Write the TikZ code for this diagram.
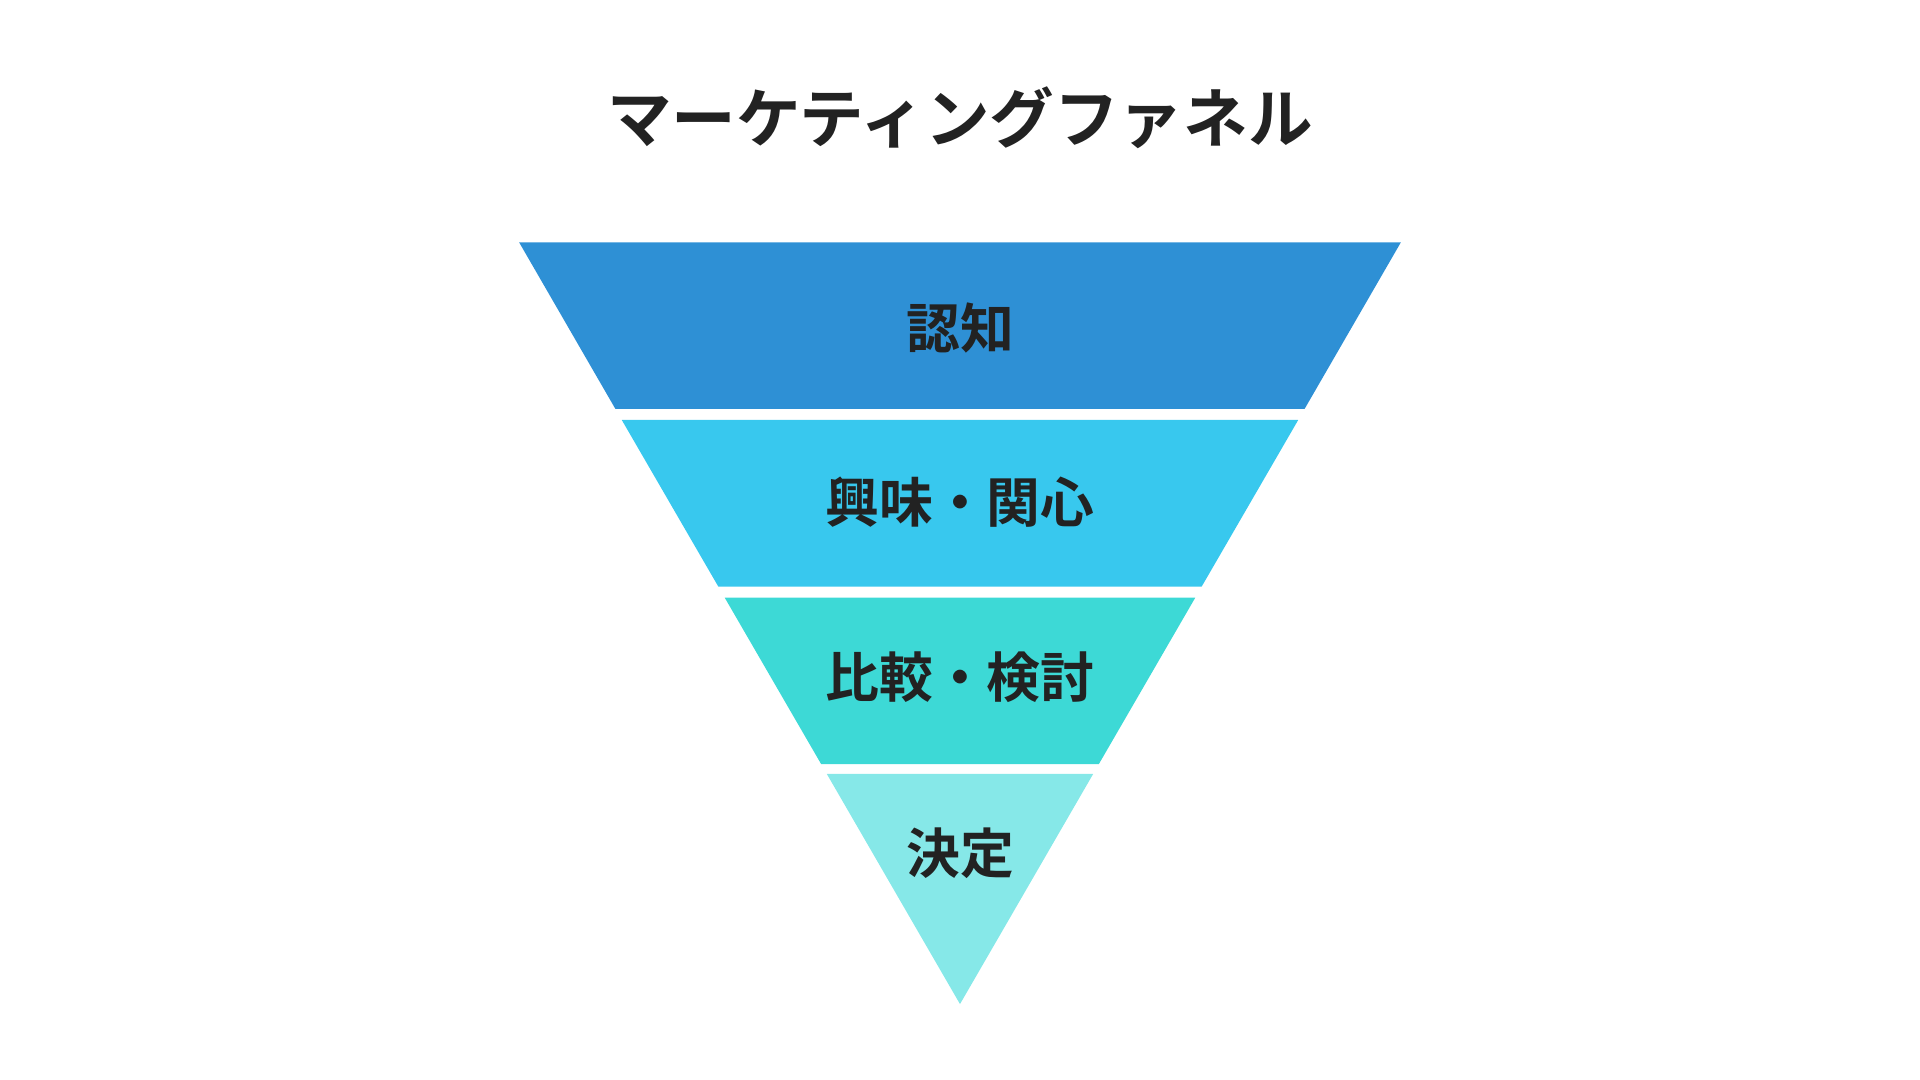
\documentclass[tikz,border=0pt]{standalone}
\usepackage{fontspec}
\newfontfamily\cjk{Noto Sans CJK JP}[BoldFont={Noto Sans CJK JP Bold}]
\definecolor{band1}{HTML}{2E90D5}
\definecolor{band2}{HTML}{38C8EE}
\definecolor{band3}{HTML}{3DD9D6}
\definecolor{band4}{HTML}{86E8E8}
\definecolor{ink}{HTML}{222222}

\begin{document}
\begin{tikzpicture}[x = 0.01cm, y = -0.01cm, % pixel-like units
                label/.style = {text = ink, font = \cjk\bfseries\fontsize{12.5}{14}\selectfont},
                band/.style = {draw = none}
            ]

            \useasboundingbox (0,0) rectangle (1568,882);

            % funnel bands
            \fill[band, band1] (424,198) -- (1144,198) -- (1065.4,334) -- (502.6,334) -- cycle;
            \fill[band, band2] (507.8,343) -- (1060.2,343) -- (981.4,479) -- (586.6,479) -- cycle;
            \fill[band, band3] (591.8,488) -- (976.2,488) -- (897.4,624) -- (670.6,624) -- cycle;
            \fill[band, band4] (675.2,632) -- (892.8,632) -- (784,820) -- cycle;

            \node (title) [text = ink, font = \cjk\bfseries\fontsize{15}{18}\selectfont] at (784,96) {マーケティングファネル};
            \node (aware) [label] at (784,268) {認知};
            \node (interest) [label] at (784,410) {興味・関心};
            \node (compare) [label] at (784,553) {比較・検討};
            \node (decide) [label] at (784,697) {決定};
        \end{tikzpicture}
\end{document}
